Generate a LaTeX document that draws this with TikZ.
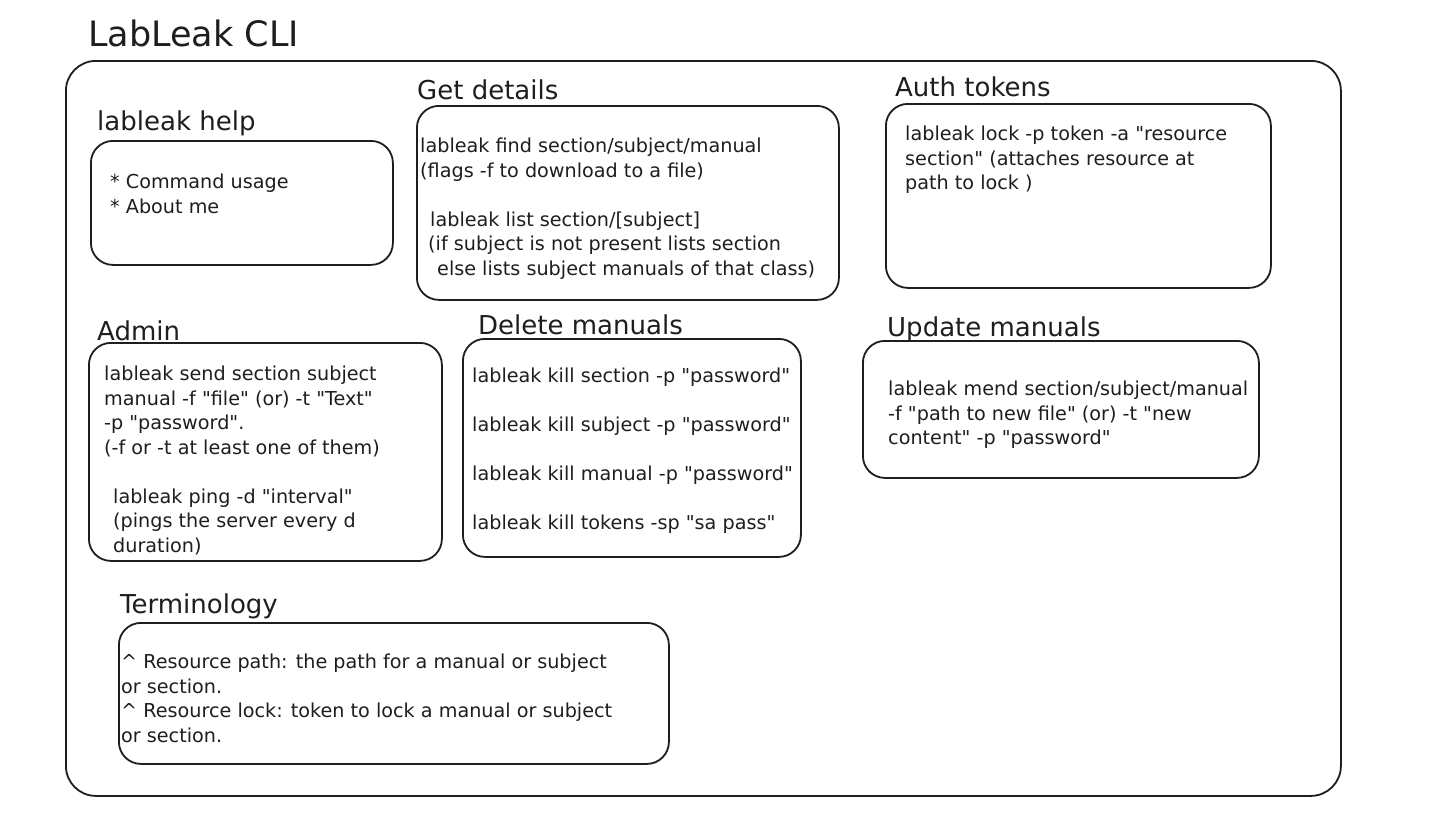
\documentclass[tikz,border=0pt]{standalone}
\usepackage{fontspec}
\setmainfont{DejaVu Sans}[Ligatures=TeXOff]
\definecolor{ink}{HTML}{1E1E1E}
\begin{document}
\begin{tikzpicture}[x=1pt,y=-1pt,
  panel/.style={draw=ink, line width=1.8pt, rounded corners=22pt, anchor=north west, inner sep=0pt},
  body/.style={anchor=north west, inner sep=0pt, align=left, text=ink, font=\fontsize{19.2}{24.5}\selectfont},
  head/.style={anchor=west, inner sep=0pt, text=ink, font=\fontsize{26}{30}\selectfont},
  ttl/.style={anchor=west, inner sep=0pt, text=ink, font=\fontsize{35}{40}\selectfont}]
\useasboundingbox[fill=white] (0,0) rectangle (1446,814);

% title and outer frame
\node[ttl] (title) at (88,33) {LabLeak CLI};
\node[panel, rounded corners=30pt, minimum width=1275pt, minimum height=735pt] (outer) at (65,60) {};

% lableak help
\node[head] (helph) at (97,123) {lableak help};
\node[panel, minimum width=302pt, minimum height=124pt] (helpbox) at (90,140) {};
\node[body] (helpt) at (110,174) {* Command usage\\* About me};

% Get details
\node[head] (geth) at (417,90) {Get details};
\node[panel, minimum width=422pt, minimum height=194pt] (getbox) at (416,105) {};
\node[body] (gett) at (420,138) {lableak find section/subject/manual\\(flags -f to download to a file)\\[24.5pt]
\hspace*{10pt}lableak list section/[subject]\\\hspace*{8pt}(if subject is not present lists section\\\hspace*{17pt}else lists subject manuals of that class)};

% Auth tokens
\node[head] (authh) at (895,87) {Auth tokens};
\node[panel, minimum width=385pt, minimum height=184pt] (authbox) at (885,103) {};
\node[body] (autht) at (905,126) {lableak lock -p token -a "resource\\section" (attaches resource at\\path to lock )};

% Admin
\node[head] (adminh) at (97,331) {Admin};
\node[panel, minimum width=353pt, minimum height=218pt] (adminbox) at (88,342) {};
\node[body] (admint) at (104,366) {lableak send section subject\\manual -f "file" (or) -t "Text"\\-p "password".\\(-f or -t at least one of them)\\[24.5pt]
\hspace*{9pt}lableak ping -d "interval"\\\hspace*{9pt}(pings the server every d\\\hspace*{9pt}duration)};

% Delete manuals
\node[head] (delh) at (478,325) {Delete manuals};
\node[panel, minimum width=338pt, minimum height=218pt] (delbox) at (462,338) {};
\node[body] (delt) at (472,368) {lableak kill section -p "password"\\[24.5pt]lableak kill subject -p "password"\\[24.5pt]lableak kill manual -p "password"\\[24.5pt]lableak kill tokens -sp "sa pass"};

% Update manuals
\node[head] (updh) at (887,329) {Update manuals};
\node[panel, minimum width=396pt, minimum height=137pt] (updbox) at (862,340) {};
\node[body] (updt) at (888,381) {lableak mend section/subject/manual\\-f "path to new file" (or) -t "new\\content" -p "password"};

% Terminology
\node[head] (termh) at (120,606) {Terminology};
\node[panel, minimum width=550pt, minimum height=141pt] (termbox) at (118,622) {};
\node[body] (termt) at (121,654) {\textasciicircum{} Resource path: the path for a manual or subject\\or section.\\\textasciicircum{} Resource lock: token to lock a manual or subject\\or section.};
\end{tikzpicture}
\end{document}
